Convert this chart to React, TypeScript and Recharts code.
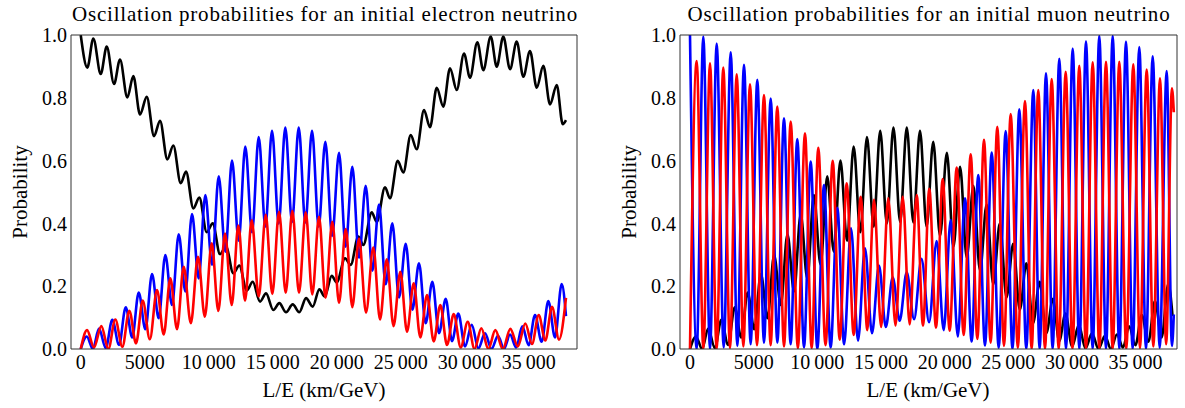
import { LineChart, Line, XAxis, YAxis } from 'recharts';

const FONT = "'Liberation Serif', 'Times New Roman', serif";
const FRAME = '#333';

// axis ticks
const xMajor = [0, 5000, 10000, 15000, 20000, 25000, 30000, 35000];
const xMajorLabels = ['0', '5000', '10\u2009000', '15\u2009000', '20\u2009000', '25\u2009000', '30\u2009000', '35\u2009000'];
const xMinor = [1000, 2000, 3000, 4000, 6000, 7000, 8000, 9000, 11000, 12000, 13000, 14000, 16000, 17000, 18000, 19000,
  21000, 22000, 23000, 24000, 26000, 27000, 28000, 29000, 31000, 32000, 33000, 34000, 36000, 37000, 38000];
const yMajor = [0, 0.2, 0.4, 0.6, 0.8, 1];
const yMajorLabels = ['0.0', '0.2', '0.4', '0.6', '0.8', '1.0'];
const yMinor = [0.05, 0.1, 0.15, 0.25, 0.3, 0.35, 0.45, 0.5, 0.55, 0.65, 0.7, 0.75, 0.85, 0.9, 0.95];

// initial electron neutrino: P(e->e) black, P(e->mu) blue, P(e->tau) red  (x = L/E in km/GeV)
const eeX = [0, 515, 984, 1562, 2031, 2601, 3069, 3639, 4108, 4631, 5155, 5725, 6193, 6763, 7232, 7810, 8224, 8794, 9263, 9841,
  10309, 10879, 11348, 11918, 12387, 12965, 13433, 14003, 14472, 15042, 15511, 16034, 16557, 17073, 17596, 18119, 18635, 19056, 19603, 19994,
  20642, 21087, 21681, 22071, 22727, 23118, 23766, 24156, 24758, 25195, 25773, 26242, 26812, 27281, 27804, 28319, 28842, 29366, 29936, 30404,
  30974, 31443, 32021, 32490, 33005, 33528, 34052, 34567, 35091, 35614, 36130, 36653, 37176, 37645, 37900];
const eeY = [1.0, 0.896, 0.989, 0.876, 0.963, 0.844, 0.922, 0.801, 0.869, 0.747, 0.803, 0.678, 0.727, 0.604, 0.648, 0.528, 0.565, 0.448, 0.482, 0.372,
  0.400, 0.302, 0.326, 0.241, 0.266, 0.186, 0.214, 0.151, 0.177, 0.124, 0.146, 0.117, 0.142, 0.117, 0.162, 0.135, 0.190, 0.167, 0.233, 0.212,
  0.289, 0.268, 0.358, 0.331, 0.435, 0.405, 0.515, 0.480, 0.599, 0.562, 0.681, 0.636, 0.761, 0.706, 0.832, 0.772, 0.894, 0.825, 0.941, 0.864,
  0.977, 0.888, 0.995, 0.899, 0.995, 0.891, 0.979, 0.867, 0.949, 0.832, 0.902, 0.779, 0.841, 0.716, 0.729];

const emuX = [0, 469, 949, 1429, 1949, 2468, 2992, 3515, 4023, 4530, 5050, 5569, 6088, 6607, 7131, 7654, 8174, 8693, 9212, 9731,
  10255, 10778, 11297, 11816, 12336, 12855, 13379, 13902, 14421, 14940, 15460, 15979, 16503, 17026, 17545, 18064, 18584, 19103, 19638, 20173,
  20693, 21212, 21736, 22259, 22778, 23297, 23817, 24336, 24860, 25383, 25902, 26421, 26941, 27460, 27984, 28507, 28999, 29491, 30014, 30537,
  31057, 31576, 32084, 32591, 33060, 33528, 34009, 34489, 34985, 35481, 36001, 36520, 37043, 37566, 37900];
const emuY = [0, 0.04, 0.0, 0.065, 0.003, 0.093, 0.013, 0.133, 0.037, 0.18, 0.063, 0.239, 0.098, 0.299, 0.14, 0.365, 0.183, 0.43, 0.225, 0.49,
  0.268, 0.55, 0.31, 0.60, 0.345, 0.645, 0.372, 0.675, 0.39, 0.695, 0.40, 0.705, 0.405, 0.705, 0.403, 0.695, 0.39, 0.66, 0.36, 0.625,
  0.326, 0.58, 0.291, 0.52, 0.249, 0.46, 0.206, 0.40, 0.164, 0.335, 0.125, 0.273, 0.082, 0.214, 0.05, 0.16, 0.025, 0.113, 0.008, 0.077,
  0.002, 0.05, 0.0, 0.042, 0.0, 0.046, 0.005, 0.072, 0.012, 0.108, 0.023, 0.153, 0.037, 0.207, 0.105];

const etauX = [0, 492, 1039, 1609, 2156, 2702, 3249, 3796, 4319, 4842, 5397, 5959, 6482, 6998, 7521, 8044, 8599, 9161, 9692, 10231,
  10747, 11270, 11793, 12309, 12832, 13355, 13902, 14449, 14964, 15487, 16010, 16526, 17049, 17573, 18088, 18611, 19119, 19650, 20173, 20697,
  21212, 21735, 22282, 22852, 23375, 23899, 24430, 24961, 25484, 26007, 26523, 27046, 27569, 28085, 28608, 29131, 29678, 30225, 30756, 31287,
  31834, 32381, 32966, 33552, 34138, 34723, 35247, 35770, 36285, 36809, 37355, 37900];
const etauY = [0, 0.06, 0.005, 0.073, 0.0, 0.094, 0.007, 0.122, 0.018, 0.154, 0.031, 0.188, 0.046, 0.225, 0.063, 0.262, 0.082, 0.294, 0.103, 0.337,
  0.121, 0.368, 0.14, 0.393, 0.154, 0.41, 0.167, 0.427, 0.175, 0.437, 0.179, 0.44, 0.179, 0.435, 0.174, 0.421, 0.163, 0.405, 0.147, 0.382,
  0.133, 0.352, 0.116, 0.323, 0.094, 0.286, 0.073, 0.246, 0.055, 0.209, 0.037, 0.172, 0.024, 0.14, 0.013, 0.111, 0.005, 0.087, 0.0, 0.066,
  0.0, 0.06, 0.0, 0.064, 0.008, 0.081, 0.016, 0.108, 0.027, 0.134, 0.03, 0.163];

// initial muon neutrino: P(mu->e) black (same curve as P(e->mu)), P(mu->mu) blue, P(mu->tau) red
const mueX = emuX;
const mueY = emuY;

const mumuX = [0, 526, 1045, 1571, 2097, 2647, 3197, 3719, 4241, 4763, 5286, 5812, 6338, 6860, 7383, 7905, 8427, 8953, 9480, 10002,
  10524, 11046, 11569, 12107, 12645, 13195, 13745, 14294, 14844, 15382, 15920, 16470, 17020, 17601, 18182, 18779, 19376, 19926, 20476, 21037,
  21599, 22121, 22643, 23170, 23696, 24245, 24795, 25329, 25863, 26413, 26963, 27462, 27960, 28482, 29005, 29531, 30057, 30580, 31102, 31624,
  32146, 32672, 33199, 33721, 34243, 34765, 35288, 35814, 36340, 36890, 37440, 37850, 38000];
const mumuY = [1.0, 0.0, 0.995, 0.0, 0.973, 0.005, 0.945, 0.01, 0.905, 0.015, 0.857, 0.02, 0.798, 0.02, 0.735, 0.015, 0.669, 0.005, 0.597, 0.0,
  0.522, 0.005, 0.45, 0.015, 0.384, 0.027, 0.321, 0.05, 0.266, 0.07, 0.228, 0.09, 0.244, 0.095, 0.287, 0.085, 0.344, 0.06, 0.411, 0.04,
  0.48, 0.024, 0.554, 0.011, 0.626, 0.004, 0.694, 0.0, 0.763, 0.0, 0.825, 0.0, 0.878, 0.0, 0.924, 0.0, 0.957, 0.0, 0.98, 0.0,
  0.997, 0.0, 0.997, 0.0, 0.979, 0.0, 0.962, 0.0, 0.932, 0.004, 0.885, 0.01, 0.11];

const mutauX = [0, 526, 1049, 1571, 2093, 2615, 3142, 3668, 4190, 4712, 5262, 5812, 6334, 6856, 7383, 7909, 8471, 9032, 9555, 10077,
  10643, 11208, 11758, 12307, 12857, 13407, 13929, 14451, 15013, 15574, 16140, 16705, 17255, 17805, 18300, 18795, 19321, 19847, 20397, 20947,
  21497, 22046, 22569, 23091, 23613, 24135, 24661, 25187, 25749, 26311, 26833, 27355, 27882, 28408, 28958, 29507, 30041, 30575, 31102, 31628,
  32151, 32673, 33195, 33717, 34267, 34817, 35343, 35869, 36392, 36914, 37400, 37850, 38000];
const mutauY = [0, 0.917, 0.0, 0.91, 0.0, 0.896, 0.003, 0.875, 0.008, 0.843, 0.012, 0.809, 0.012, 0.772, 0.008, 0.724, 0.003, 0.687, 0.003, 0.641,
  0.012, 0.599, 0.03, 0.528, 0.045, 0.485, 0.06, 0.475, 0.07, 0.48, 0.075, 0.485, 0.078, 0.49, 0.075, 0.51, 0.068, 0.541, 0.058, 0.578,
  0.045, 0.62, 0.032, 0.666, 0.02, 0.708, 0.01, 0.748, 0.004, 0.79, 0.0, 0.825, 0.0, 0.86, 0.0, 0.883, 0.0, 0.902, 0.0, 0.913,
  0.0, 0.915, 0.0, 0.915, 0.0, 0.907, 0.003, 0.89, 0.008, 0.862, 0.015, 0.83, 0.754];

const pts = (xs: number[], ys: number[]) => xs.map((x, i) => ({ x, y: ys[i] }));

const tickFont = { fill: '#000', fontSize: 20, fontFamily: FONT };
const tl = { stroke: FRAME };

function Panel({ width, margin, domain, black, blue, red }: any) {
  return (
    <LineChart width={width} height={408} margin={margin}>
      <XAxis xAxisId="x" type="number" dataKey="x" domain={domain} allowDataOverflow ticks={xMajor} interval={0}
        tickFormatter={(v: number) => xMajorLabels[xMajor.indexOf(v)]} tickLine={false} tickSize={0} tickMargin={6}
        height={30} axisLine={tl} tick={tickFont} />
      {/* inward ticks and the top/right edges of the frame */}
      <XAxis xAxisId="bMaj" type="number" domain={domain} allowDataOverflow ticks={xMajor} interval={0} mirror height={1}
        tick={false} tickSize={6} tickLine={tl} axisLine={false} />
      <XAxis xAxisId="bMin" type="number" domain={domain} allowDataOverflow ticks={xMinor} interval={0} mirror height={1}
        tick={false} tickSize={3} tickLine={tl} axisLine={false} />
      <XAxis xAxisId="tMaj" orientation="top" type="number" domain={domain} allowDataOverflow ticks={xMajor} interval={0} mirror height={1}
        tick={false} tickSize={6} tickLine={tl} axisLine={tl} />
      <XAxis xAxisId="tMin" orientation="top" type="number" domain={domain} allowDataOverflow ticks={xMinor} interval={0} mirror height={1}
        tick={false} tickSize={3} tickLine={tl} axisLine={false} />

      <YAxis yAxisId="y" type="number" domain={[0, 1]} allowDataOverflow ticks={yMajor} interval={0}
        tickFormatter={(v: number) => yMajorLabels[yMajor.indexOf(v)]} tickLine={false} tickSize={0} tickMargin={4}
        width={60} axisLine={tl} tick={tickFont} />
      <YAxis yAxisId="lMaj" type="number" domain={[0, 1]} allowDataOverflow ticks={yMajor} interval={0} mirror width={1}
        tick={false} tickSize={6} tickLine={tl} axisLine={false} />
      <YAxis yAxisId="lMin" type="number" domain={[0, 1]} allowDataOverflow ticks={yMinor} interval={0} mirror width={1}
        tick={false} tickSize={3} tickLine={tl} axisLine={false} />
      <YAxis yAxisId="rMaj" orientation="right" type="number" domain={[0, 1]} allowDataOverflow ticks={yMajor} interval={0} mirror width={1}
        tick={false} tickSize={6} tickLine={tl} axisLine={tl} />
      <YAxis yAxisId="rMin" orientation="right" type="number" domain={[0, 1]} allowDataOverflow ticks={yMinor} interval={0} mirror width={1}
        tick={false} tickSize={3} tickLine={tl} axisLine={false} />

      <Line xAxisId="x" yAxisId="y" data={black} dataKey="y" type="monotone" stroke="#000" strokeWidth={2.6} dot={false} activeDot={false} isAnimationActive={false} />
      <Line xAxisId="x" yAxisId="y" data={blue} dataKey="y" type="monotone" stroke="#0000ff" strokeWidth={2.6} dot={false} activeDot={false} isAnimationActive={false} />
      <Line xAxisId="x" yAxisId="y" data={red} dataKey="y" type="monotone" stroke="#ff0000" strokeWidth={2.6} dot={false} activeDot={false} isAnimationActive={false} />
    </LineChart>
  );
}

const textBase: React.CSSProperties = { position: 'absolute', fontFamily: FONT, color: '#000', whiteSpace: 'nowrap', lineHeight: '22px' };

function Label({ text, cx, top, size = 21, spacing = 0, rotate = false }: any) {
  return (
    <div style={{
      ...textBase, left: cx, top, fontSize: size, letterSpacing: spacing,
      transform: rotate ? 'translate(-50%, -50%) rotate(-90deg)' : 'translateX(-50%)',
    }}>{text}</div>
  );
}

export default function App() {
  return (
    <div style={{ position: 'absolute', left: 0, top: 0, width: 1185, height: 408, background: '#fff', overflow: 'hidden' }}>
      <div style={{ position: 'absolute', left: 0, top: 0 }}>
        <Panel width={590} margin={{ top: 35, right: 13, bottom: 29, left: 11 }} domain={[-760, 38760]}
          black={pts(eeX, eeY)} blue={pts(emuX, emuY)} red={pts(etauX, etauY)} />
      </div>
      <div style={{ position: 'absolute', left: 590, top: 0 }}>
        <Panel width={595} margin={{ top: 35, right: 8, bottom: 29, left: 30 }} domain={[-785, 38250]}
          black={pts(mueX, mueY)} blue={pts(mumuX, mumuY)} red={pts(mutauX, mutauY)} />
      </div>
      <Label text="Oscillation probabilities for an initial electron neutrino" cx={325} top={3} spacing={0.8} />
      <Label text="Oscillation probabilities for an initial muon neutrino" cx={929} top={3} spacing={0.8} />
      <Label text="L/E (km/GeV)" cx={324} top={379} />
      <Label text="L/E (km/GeV)" cx={928} top={379} />
      <Label text="Probability" cx={20} top={192} rotate />
      <Label text="Probability" cx={629} top={192} rotate />
    </div>
  );
}
